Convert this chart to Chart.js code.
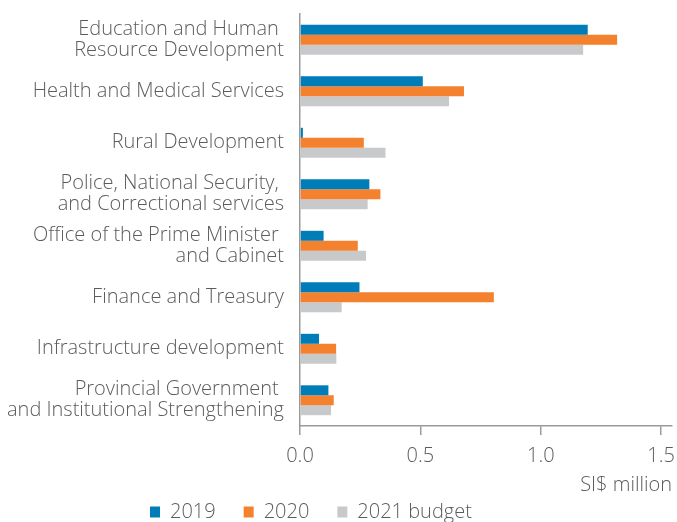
<!DOCTYPE html>
<html>
<head>
<meta charset="utf-8">
<script src="https://cdn.jsdelivr.net/npm/chart.js@4/dist/chart.umd.min.js"></script>
<style>
html,body{margin:0;padding:0;background:#fff;}
#wrap{width:677px;height:522px;position:relative;}
</style>
</head>
<body>
<div id="wrap"><canvas id="c" width="677" height="522"></canvas></div>
<script>
const categories = [
  ["Education and Human ", "Resource Development"],
  "Health and Medical Services",
  "Rural Development",
  ["Police, National Security, ", "and Correctional services"],
  ["Office of the Prime Minister ", "and Cabinet"],
  "Finance and Treasury",
  "Infrastructure development",
  ["Provincial Government ", "and Institutional Strengthening"]
];
const seriesNames = ["2019", "2020", "2021 budget"];
const values2019 = [1.195, 0.51, 0.012, 0.288, 0.098, 0.247, 0.079, 0.118];
const values2020 = [1.317, 0.681, 0.265, 0.334, 0.240, 0.805, 0.150, 0.140];
const values2021 = [1.176, 0.619, 0.355, 0.281, 0.274, 0.173, 0.151, 0.129];
const xTicks = [0, 0.5, 1.0, 1.5];
const xTitle = "SI$ million";

const colors = ["#007DB8", "#F4812D", "#C8C9CB"];
const textColor = "#5b5c5e";
const axisColor = "#9a9a9a";
const fontFamily = "'Open Sans', Lato, sans-serif";
const fSize = 20;

const legendShift = {
  id: 'legendShift',
  afterLayout(chart) {
    if (chart.legend) { chart.legend.left += 122; chart.legend.right += 122; }
  }
};

new Chart(document.getElementById('c'), {
  type: 'bar',
  data: {
    labels: categories,
    datasets: [values2019, values2020, values2021].map((d, i) => ({
      label: seriesNames[i],
      data: d,
      backgroundColor: colors[i],
      borderWidth: 0,
      categoryPercentage: 0.58,
      barPercentage: 1.0
    }))
  },
  plugins: [legendShift],
  options: {
    indexAxis: 'y',
    responsive: false,
    animation: false,
    layout: { padding: { left: 0, right: 5, top: 14, bottom: 0 } },
    plugins: {
      legend: {
        position: 'bottom',
        align: 'start',
        maxHeight: 48,
        labels: {
          font: { family: fontFamily, size: fSize, weight: 300 },
          color: textColor,
          boxWidth: 10,
          boxHeight: 11,
          padding: 28
        }
      },
      tooltip: { enabled: false }
    },
    scales: {
      x: {
        min: 0,
        max: 1.545,
        afterBuildTicks: (scale) => { scale.ticks = xTicks.map(v => ({ value: v })); },
        afterFit: (scale) => { scale.height = 48; scale.paddingLeft = 0; scale.paddingRight = 0; },
        grid: { drawOnChartArea: false, drawTicks: true, tickLength: 9, color: axisColor, lineWidth: 1.5 },
        border: { display: true, color: axisColor, width: 1.5 },
        ticks: {
          font: { family: fontFamily, size: fSize, weight: 300 },
          color: textColor,
          padding: 9,
          callback: (v) => Number(v).toFixed(1)
        },
        title: {
          display: true,
          text: xTitle,
          align: 'end',
          font: { family: fontFamily, size: fSize, weight: 300 },
          color: textColor,
          padding: { top: 0, bottom: -23 }
        }
      },
      y: {
        grid: { display: false, drawTicks: false },
        border: { display: true, color: axisColor, width: 1.5 },
        afterFit: (scale) => { scale.width = 300; scale.paddingTop = 0; scale.paddingBottom = 0; },
        ticks: {
          font: { family: fontFamily, size: fSize, weight: 300, lineHeight: 1.05 },
          color: textColor,
          padding: 16,
          autoSkip: false
        }
      }
    }
  }
});
</script>
</body>
</html>
